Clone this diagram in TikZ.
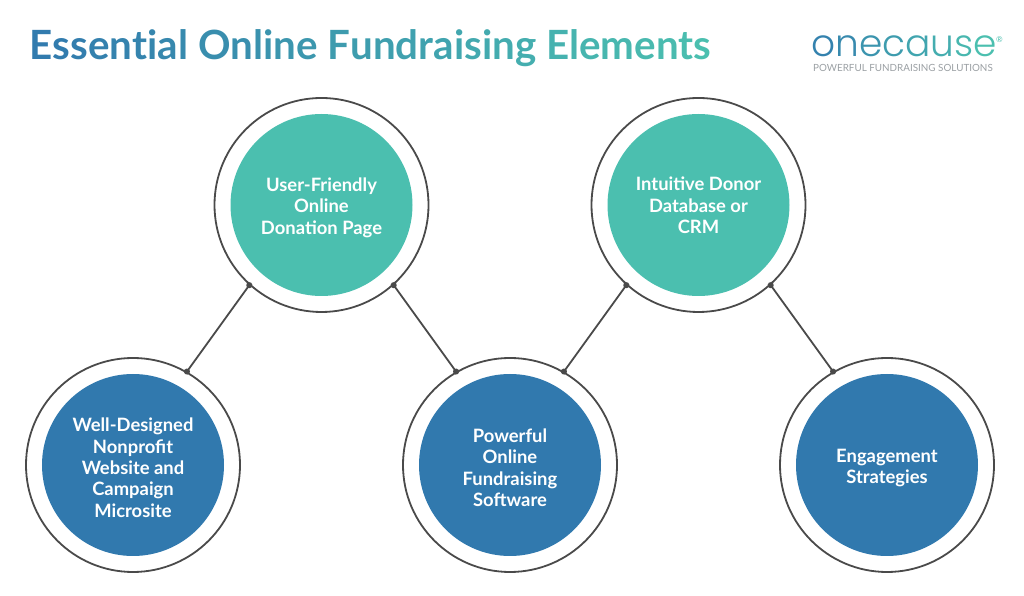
\documentclass[tikz,border=0pt]{standalone}
\usepackage{fontspec}
\setmainfont{Lato}
\newfontfamily\logofont{Poppins Light}
\usetikzlibrary{arrows.meta}

\definecolor{tealc}{HTML}{4BBFAF}
\definecolor{bluec}{HTML}{3179AE}
\definecolor{ringc}{HTML}{4A4A4A}
\definecolor{tagc}{HTML}{9A9FA3}

% letters coloured one by one, blue to teal
\newcount\gradnum
\newcount\gradtotal
\def\gradnext#1{\ifx#1\relax\else\global\advance\gradnum by 1
  \textcolor{tealc!\the\numexpr\gradnum*100/\gradtotal\relax!bluec}{#1}\expandafter\gradnext\fi}
\newcommand{\gradtext}[1]{\global\gradnum=0 \global\gradtotal=#1 \gradnext}
% taller first line, sinks the text in its disk
\newcommand{\up}{\rule{0pt}{19pt}}

\tikzset{
  disk/.style={circle,minimum size=182pt,inner sep=0pt,text=white,align=center,font=\fontsize{18.4}{21.4}\selectfont\bfseries},
  ring/.style={circle,draw=ringc,line width=1.8pt,minimum size=214pt,inner sep=0pt},
  link/.style={draw=ringc,line width=1.8pt,shorten <=-3pt,shorten >=-3pt,{Circle[length=6pt]}-{Circle[length=6pt]}},
}

\begin{document}
\begin{tikzpicture}[x=1pt,y=1pt]
\useasboundingbox (0,0) rectangle (1024,596);
\matrix (m) at (510,261) [row sep=78pt,column sep=6.5pt]
{
	& \node[disk,fill=tealc] (U) {\up User-Friendly\\Online\\Donation Page}; & & \node[disk,fill=tealc] (D) {\up Intuitive Donor\\Database or\\CRM\rule[-4.5pt]{0pt}{4.5pt}}; & \\
	\node[disk,fill=bluec] (W) {\up Well-Designed\\Nonprofit\\Website and\\Campaign\\Microsite}; & & \node[disk,fill=bluec] (P) {\up Powerful\\Online\\Fundraising\\Software}; & & \node[disk,fill=bluec] (E) {\up Engagement\\Strategies};\\
};
\foreach \n in {U,D,W,P,E}
	\node[ring] (R\n) at (\n) {};
\draw[link] (RU.228) -- (RW.60);
\draw[link] (RU.312) -- (RP.120);
\draw[link] (RD.228) -- (RP.60);
\draw[link] (RD.312) -- (RE.120);

\node[anchor=base west,inner sep=0pt,font=\fontsize{40.3}{48}\selectfont\bfseries] (title) at (29.5,536)
	{\gradtext{37}Essential~Online~Fundraising~Elements\relax};
\node[anchor=base west,inner sep=0pt,text depth=0pt,font=\logofont\fontsize{37.5}{44}\selectfont] (logo) at (811,539)
	{\gradtext{8}onecause\relax};
\node[anchor=base west,inner sep=0pt,text=tealc,font=\fontsize{8}{9}\selectfont] (reg) at (996,553) {\textregistered};
\node[anchor=base west,inner sep=0pt,text=tagc,font=\fontsize{9.85}{12}\selectfont] (tag) at (813,524) {POWERFUL FUNDRAISING SOLUTIONS};
\end{tikzpicture}
\end{document}
